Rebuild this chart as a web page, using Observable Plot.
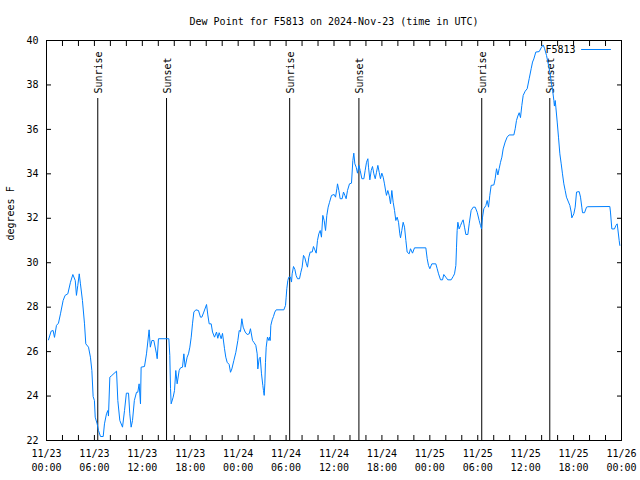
<!DOCTYPE html>
<html><head><meta charset="utf-8">
<script src="https://cdn.jsdelivr.net/npm/d3@7"></script>
<script src="https://cdn.jsdelivr.net/npm/@observablehq/plot@0.6"></script>
<style>html,body{margin:0;padding:0;background:#fff;}</style>
</head><body><div id="chart"></div>
<script>
const titleText = "Dew Point for F5813 on 2024-Nov-23 (time in UTC)";
const yLabel = "degrees F";
const seriesName = "F5813";
const startISO = "2024-11-23T00:00:00Z";
const endISO = "2024-11-26T00:00:00Z";

// hours since 2024-11-23 00:00 UTC
const hours = [0.25,0.58,0.83,1.0,1.25,1.5,1.75,2.08,2.33,2.67,3.0,3.3,3.6,3.75,3.92,4.1,4.25,4.5,4.76,4.92,5.26,5.5,5.68,5.84,6.0,6.1,6.34,6.51,6.76,7.1,7.26,7.51,7.68,7.76,7.93,8.1,8.77,8.93,9.18,9.52,9.77,10.0,10.27,10.43,10.6,10.77,11.0,11.27,11.43,11.6,11.77,11.85,12.27,12.52,12.85,13.0,13.2,13.44,13.77,13.86,14.02,15.32,15.44,15.53,15.61,15.86,16.03,16.19,16.36,16.61,16.78,17.03,17.2,17.36,17.61,17.78,17.95,18.12,18.28,18.45,18.7,19.03,19.28,19.45,19.7,20.04,20.2,20.37,20.62,20.79,21.04,21.29,21.45,21.62,21.87,22.04,22.29,22.45,22.62,22.87,23.04,23.21,23.46,23.71,23.96,24.13,24.29,24.46,24.63,24.88,25.13,25.38,25.54,25.8,25.96,26.21,26.38,26.46,26.63,26.76,26.92,27.09,27.17,27.26,27.34,27.42,27.51,27.67,27.84,27.92,28.01,28.09,28.26,28.42,28.59,28.76,29.72,29.93,30.01,30.09,30.22,30.34,30.55,30.68,30.76,30.93,31.1,31.26,31.43,31.68,31.85,32.01,32.18,32.35,32.52,32.68,32.85,33.02,33.27,33.43,33.6,33.77,33.93,34.1,34.27,34.43,34.6,34.77,34.94,35.1,35.27,35.44,35.69,36.02,36.19,36.36,36.44,36.61,36.77,37.02,37.19,37.36,37.52,37.69,37.94,38.19,38.36,38.48,38.61,38.78,38.94,39.12,39.28,39.49,39.74,39.9,40.07,40.24,40.32,40.49,40.66,40.82,40.99,41.16,41.32,41.49,41.66,41.82,41.99,42.16,42.32,42.49,42.57,42.74,42.91,43.08,43.24,43.41,43.58,43.74,43.91,44.08,44.24,44.33,44.49,44.66,44.83,45.0,45.16,45.41,45.58,45.83,46.08,47.5,47.67,47.83,48.0,48.25,48.75,48.92,49.09,49.34,49.59,49.75,50.0,50.25,50.67,50.92,51.09,51.26,51.34,51.42,51.51,51.67,51.84,52.01,52.17,52.34,52.51,52.76,52.93,53.17,53.43,53.68,53.93,54.18,54.35,54.47,54.6,54.76,55.01,55.18,55.35,55.51,55.68,56.02,56.18,56.35,56.52,56.68,56.85,57.02,57.18,57.43,57.68,57.93,58.52,58.69,58.85,59.02,59.19,59.35,59.52,59.69,59.94,60.19,60.44,60.69,60.86,61.02,61.27,61.69,61.94,62.19,62.36,62.61,62.78,63.03,63.2,63.36,63.53,63.6,63.7,63.78,63.95,64.11,64.28,64.45,64.61,64.78,64.95,65.11,65.36,65.53,65.7,65.78,66.03,66.2,66.37,66.7,66.87,67.03,67.12,67.37,67.62,67.79,70.54,70.62,70.79,71.12,71.29,71.46,71.54,71.71,71.79];

const dewF = [26.53,26.92,26.95,26.64,27.18,27.28,27.7,28.3,28.53,28.6,29.12,29.47,29.2,28.53,28.98,29.5,29.05,28.3,27.25,26.35,26.2,25.75,25.15,23.98,23.8,23.05,22.75,22.45,22.18,22.18,22.75,23.2,23.35,23.1,24.85,24.9,25.12,23.8,22.9,22.6,23.35,24.13,24.13,23.2,22.6,22.9,23.8,24.17,24.17,24.55,23.65,25.3,25.33,25.9,26.98,26.2,26.5,26.5,25.9,25.68,26.58,26.58,25.83,24.33,23.65,23.95,24.25,25.15,24.55,25.15,25.27,25.3,25.9,25.3,25.75,25.9,26.2,26.65,27.25,27.78,27.88,27.85,27.55,27.55,27.78,28.12,27.65,27.25,27.25,26.88,26.65,26.88,26.6,26.85,26.58,26.82,26.13,25.75,25.52,25.42,25.07,25.22,25.6,25.97,26.5,26.95,26.9,27.48,27.1,26.88,26.77,26.8,27.03,26.5,26.42,26.28,25.9,25.22,25.68,25.75,25.0,24.47,24.25,24.03,24.55,25.52,26.2,26.65,26.5,26.65,26.5,27.18,27.43,27.58,27.78,27.88,27.88,28.08,28.45,28.83,29.2,29.35,29.35,29.13,29.5,29.83,29.7,29.42,29.28,29.28,29.57,29.8,30.33,30.22,29.98,29.8,30.25,30.48,30.48,30.73,30.58,30.43,31.0,31.3,31.45,31.15,32.13,31.9,31.45,32.13,32.5,32.72,33.03,33.07,32.95,33.33,33.55,33.25,32.88,32.88,33.18,33.03,32.88,33.25,33.55,33.58,34.6,34.93,34.45,34.3,34.03,34.38,34.15,33.78,33.78,34.15,34.52,34.68,34.3,33.73,34.15,34.33,34.0,33.78,34.07,34.38,34.07,33.78,34.03,33.85,33.55,33.18,33.03,33.25,33.03,32.65,33.25,32.72,32.35,31.9,32.05,31.82,31.3,31.12,31.45,31.82,31.6,31.0,30.48,30.4,30.63,30.43,30.67,30.67,30.18,29.88,29.73,29.95,29.95,29.73,29.5,29.23,29.23,29.47,29.35,29.23,29.23,29.38,29.5,29.88,30.7,31.45,31.82,31.52,31.67,31.82,31.93,31.6,31.27,31.27,31.75,32.35,32.5,32.5,32.27,31.9,31.67,31.52,32.05,32.43,32.57,32.8,32.5,33.03,33.48,33.5,33.78,34.23,33.95,34.23,34.52,34.75,35.12,35.43,35.65,35.75,35.75,36.03,36.4,36.6,36.75,36.53,37.08,37.53,37.72,37.83,38.28,38.73,39.03,39.17,39.48,39.5,39.67,39.8,39.65,39.33,39.03,38.58,38.13,37.8,37.3,37.05,37.3,37.0,36.33,35.65,34.9,34.45,34.0,33.55,33.25,32.95,32.73,32.58,32.28,32.02,32.2,32.5,33.18,33.2,32.95,32.5,32.25,32.25,32.5,32.52,32.53,32.28,31.52,31.52,31.67,31.75,31.52,31.0,30.78];

const eventLabels = ["Sunrise", "Sunset", "Sunrise", "Sunset", "Sunrise", "Sunset"];
const eventHours = [6.42, 15.03, 30.45, 39.12, 54.5, 63.02];

const yTicks = [22, 24, 26, 28, 30, 32, 34, 36, 38, 40];

const t0 = new Date(startISO);
const toDate = h => new Date(t0.getTime() + h * 3600e3);
const series = hours.map((h, i) => ({time: toDate(h), value: dewF[i]}));
const events = eventHours.map((h, i) => ({time: toDate(h), label: eventLabels[i]}));

const xDomain = [new Date(startISO), new Date(endISO)];
const labelTicks = d3.utcHour.every(6).range(xDomain[0], new Date(xDomain[1].getTime() + 1));
const minorTicks = d3.utcHour.every(2).range(xDomain[0], new Date(xDomain[1].getTime() + 1));
const fmt = d3.utcFormat("%m/%d\n%H:%M");

const lineColor = "#0080ff";
const font = "DejaVu Sans Mono";

const chart = Plot.plot({
  width: 640,
  height: 480,
  marginLeft: 46,
  marginRight: 19,
  marginTop: 40,
  marginBottom: 40,
  style: {fontFamily: font, fontSize: "10px", background: "#fff", color: "#000"},
  x: {type: "utc", domain: xDomain},
  y: {domain: [22, 40]},
  marks: [
    Plot.frame({stroke: "#000"}),
    Plot.axisX(minorTicks, {anchor: "bottom", tickSize: -5, fill: "none", label: null}),
    Plot.axisX(minorTicks, {anchor: "top", tickSize: -5, fill: "none", label: null}),
    Plot.axisX(labelTicks, {anchor: "bottom", tickSize: 0, tickPadding: 7, tickFormat: fmt, lineHeight: 1.4, label: null, fontSize: 10}),
    Plot.axisY(yTicks, {anchor: "left", tickSize: -5, fill: "none", label: null}),
    Plot.axisY(yTicks, {anchor: "right", tickSize: -5, fill: "none", label: null}),
    Plot.axisY(yTicks, {anchor: "left", tickSize: 0, tickPadding: 8, label: null, fontSize: 10}),
    Plot.ruleX(events, {x: "time", insetTop: 58, stroke: "#000", strokeWidth: 1}),
    Plot.text(events, {x: "time", text: "label", frameAnchor: "top", dy: 53, dx: 1, rotate: -90, textAnchor: "start", lineAnchor: "middle", fontSize: 10, fill: "#000"}),
    Plot.line(series, {x: "time", y: "value", stroke: lineColor, strokeWidth: 1}),
    Plot.text([titleText], {frameAnchor: "top", dy: -19, lineAnchor: "middle", fontSize: 10, fill: "#000"}),
    Plot.text([yLabel], {frameAnchor: "left", dx: -36, rotate: -90, lineAnchor: "middle", fontSize: 10, fill: "#000"}),
    Plot.text([seriesName], {frameAnchor: "top-right", dx: -46, dy: 9, textAnchor: "end", lineAnchor: "middle", fontSize: 10, fill: "#000"}),
    Plot.vector([0], {frameAnchor: "top-right", dx: -40, dy: 9, length: 29, rotate: 90, anchor: "start", stroke: lineColor, strokeWidth: 1,
      shape: {draw(ctx, l) { ctx.moveTo(0, 0); ctx.lineTo(0, -l); }}})
  ]
});
document.getElementById("chart").appendChild(chart);
</script>
</body></html>
